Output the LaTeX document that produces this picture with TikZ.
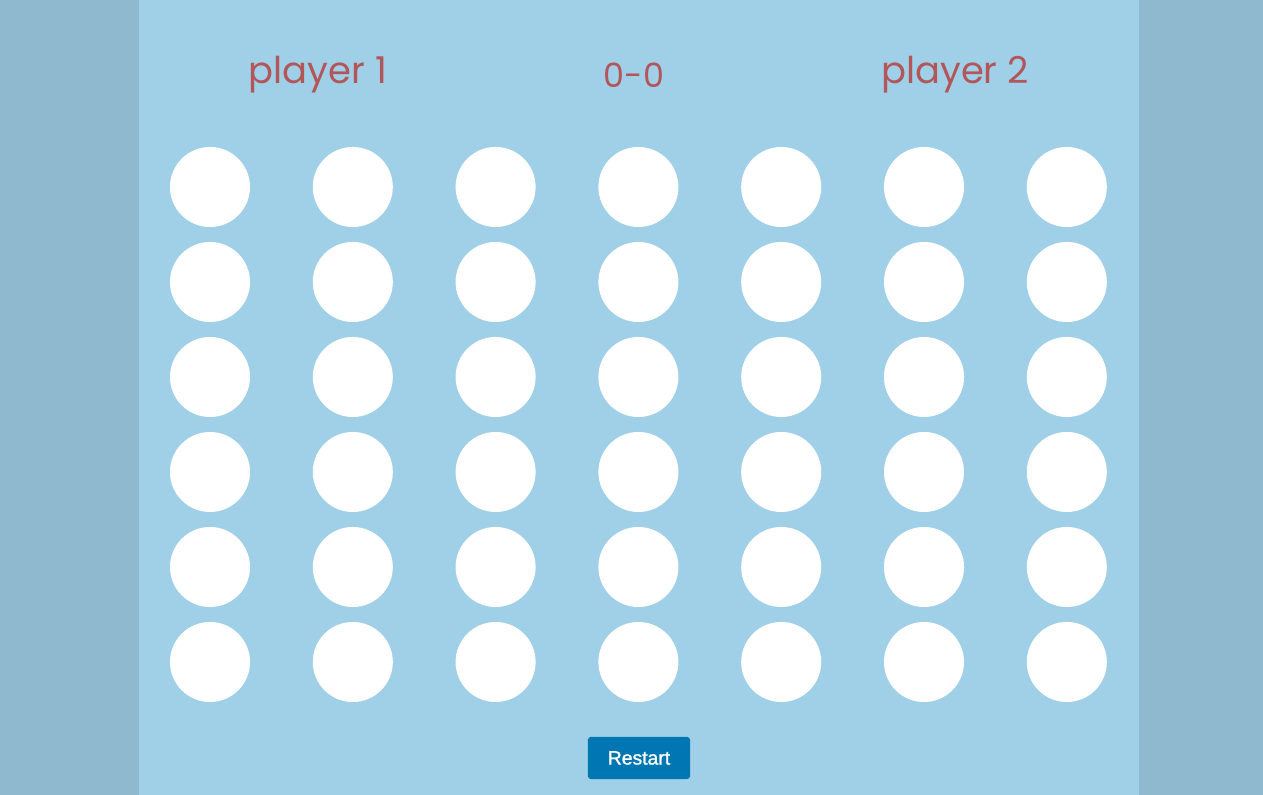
\documentclass[tikz,border=0pt]{standalone}
\usepackage{fontspec}
\setmainfont{Poppins}
\newfontfamily\btnfont[FakeBold=1.2]{Liberation Sans}
\usetikzlibrary{calc}
\definecolor{myouter}{RGB}{142, 185, 206}
\definecolor{myboard}{RGB}{160, 208, 231}
\definecolor{myred}{RGB}{178, 86, 90}
\definecolor{mybtn}{RGB}{0, 118, 178}
\tikzset{hole/.style = {circle, fill = white, minimum size = 0.8cm, inner sep = 0pt}}
\tikzset{title/.style = {text = myred, font = \fontsize{10.5}{12}\selectfont, inner sep = 0pt}}
\begin{document}
\begin{tikzpicture}[x = 0.01cm, y = -0.01cm]
\useasboundingbox (0, 0) rectangle (1263, 795);
\fill[myouter] (0, 0) rectangle (1263, 795);
\fill[myboard] (139, 0) rectangle (1139, 795);

% titles
\node[title] (p1) at (318, 75) {player 1};
\node[title, font = \fontsize{9.5}{12}\selectfont] (score) at (634, 75) {0-0};
\node[title] (p2) at (955, 75) {player 2};

% the holes
\foreach \c [count = \i from 0] in {1,...,7} {
  \foreach \r [count = \j from 0] in {1,...,6} {
    \node[hole] (h\c\r) at (210 + 142.8*\i, 187 + 95*\j) {};
  }
}

\node[fill = mybtn, rounded corners = 0.8pt, text = white, inner sep = 0pt,
  minimum width = 1.02cm, minimum height = 0.42cm, font = \btnfont\fontsize{5.5}{6}\selectfont]
  (restart) at (639, 758) {Restart};
\end{tikzpicture}
\end{document}
